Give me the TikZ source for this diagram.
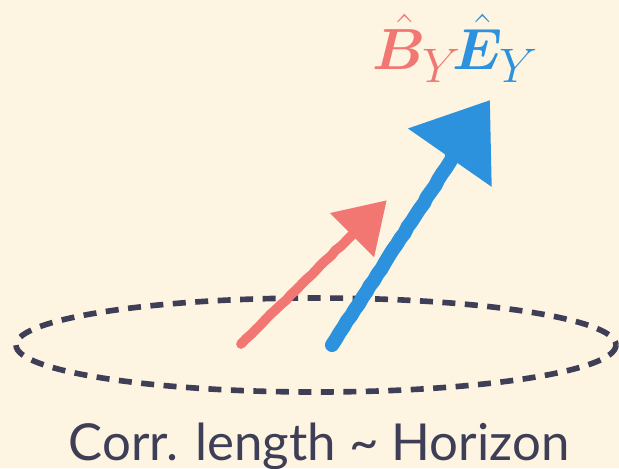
\documentclass[tikz,border=0pt]{standalone}
\usepackage{amsmath,bm}
\usepackage{fontspec}
\setmainfont{Lato}
\usetikzlibrary{arrows.meta,positioning,decorations.pathmorphing}
\definecolor{Cream}{RGB}{253,244,226}
\definecolor{InkGray}{RGB}{62,63,86}
\definecolor{SoftRed}{RGB}{242,118,114}
\definecolor{SkyBlue}{RGB}{45,146,221}
\tikzset{
  horizon/.style={draw=InkGray,line width=3.2pt,dash pattern=on 7.4pt off 5.4pt},
  crayon/.style={line cap=round,decorate,
    decoration={random steps,segment length=4pt,amplitude=0.3pt}},
  redarrow/.style={crayon,SoftRed,line width=5.5pt,
    -{Triangle[length=28pt,width=34pt]}},
  bluearrow/.style={crayon,SkyBlue,line width=8pt,
    -{Triangle[length=40pt,width=56pt]}},
  veclabel/.style={inner sep=0pt,anchor=base west,scale=1.33,
    font=\fontsize{24.88}{30}\selectfont}
}
\begin{document}
\begin{tikzpicture}[x=0.02cm,y=-0.02cm]
  \fill[Cream] (0,0) rectangle (619,468);
  \useasboundingbox (0,0) rectangle (619,468);

  % dashed horizon ring
  \draw[horizon] (316,345) ellipse [x radius=300,y radius=47];

  % field vectors
  \coordinate (btail) at (241,344);
  \coordinate (btip) at (387,200);
  \coordinate (etail) at (332,345);
  \coordinate (etip) at (490,100);
  \draw[redarrow] (btail) -- (btip);
  \draw[bluearrow] (etail) -- (etip);

  % labels
  \node[veclabel] (lbl) at (372,69) {$\color{SoftRed}\hat{\bm B}_Y\!\color{SkyBlue}\hat{\bm E}_Y$};
  \node[anchor=base,text=InkGray,font=\fontsize{29}{34}\selectfont] (corr) at (319,460) {Corr. length \textasciitilde{} Horizon};
\end{tikzpicture}
\end{document}
